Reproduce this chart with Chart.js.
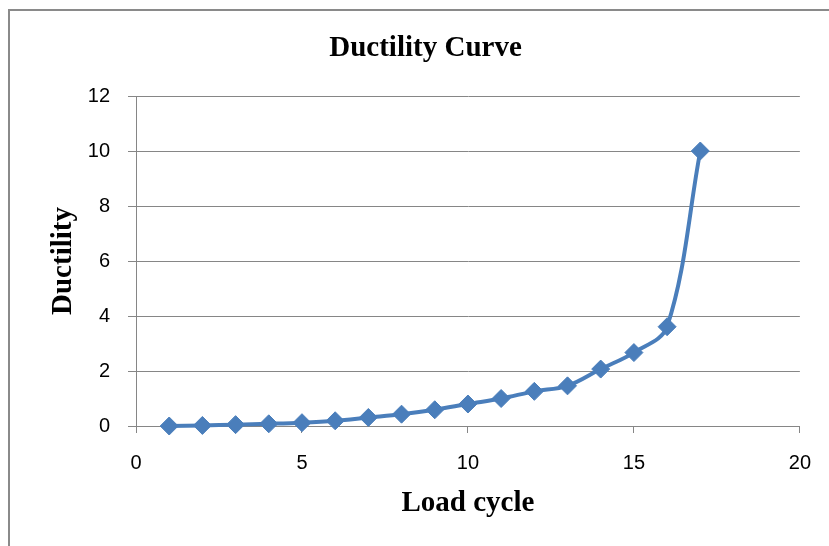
<!DOCTYPE html>
<html>
<head>
<meta charset="utf-8">
<script src="https://cdn.jsdelivr.net/npm/chart.js@4.4.1/dist/chart.umd.min.js"></script>
<style>
  html, body { margin: 0; padding: 0; background: #fff; }
  #wrap { position: relative; width: 829px; height: 546px; }
  #frame { position: absolute; left: 8px; top: 9px; right: -4px; bottom: -4px;
           border-left: 2px solid #8a8a8a; border-top: 2px solid #8a8a8a; pointer-events: none; }
  canvas { display: block; }
</style>
</head>
<body>
<div id="wrap">
  <canvas id="chart" width="829" height="546"></canvas>
  <div id="frame"></div>
</div>
<script>
// Ductility measured at each load cycle
const loadCycles = [1, 2, 3, 4, 5, 6, 7, 8, 9, 10, 11, 12, 13, 14, 15, 16, 17];
const ductility  = [0.00, 0.02, 0.05, 0.08, 0.12, 0.19, 0.31, 0.43, 0.59, 0.80, 1.00, 1.26, 1.46, 2.07, 2.67, 3.61, 10.0];

const chartTitle = 'Ductility Curve';
const xTitle = 'Load cycle';
const yTitle = 'Ductility';

const blue = '#4a7ebb';
const gridGray = '#868686';
const tickFont = { family: '"Liberation Sans", Arial, sans-serif', size: 20 };
const titleFont = { family: '"Liberation Serif", "Times New Roman", serif', size: 29, weight: 'bold' };

// Chart heading drawn above the plot
const headingPlugin = {
  id: 'heading',
  afterDraw(chart) {
    const { ctx } = chart;
    ctx.save();
    ctx.font = 'bold 29px "Liberation Serif", "Times New Roman", serif';
    ctx.fillStyle = '#000';
    ctx.textAlign = 'center';
    ctx.textBaseline = 'middle';
    ctx.fillText(chartTitle, chart.width / 2 + 11, 49);
    ctx.restore();
  }
};

new Chart(document.getElementById('chart'), {
  type: 'line',
  data: {
    datasets: [{
      data: loadCycles.map((c, i) => ({ x: c, y: ductility[i] })),
      borderColor: blue,
      backgroundColor: blue,
      borderWidth: 4,
      tension: 0.35,
      pointStyle: 'rectRot',
      pointRadius: 9,
      pointBorderWidth: 1,
      pointBorderColor: blue,
      pointBackgroundColor: blue,
      clip: false
    }]
  },
  options: {
    responsive: false,
    animation: false,
    layout: { padding: { top: 96, right: 29, bottom: 0, left: 0 } },
    plugins: {
      legend: { display: false },
      tooltip: { enabled: false }
    },
    scales: {
      x: {
        type: 'linear',
        min: 0, max: 20,
        ticks: { stepSize: 5, color: '#000', font: tickFont, padding: 18, maxRotation: 0 },
        grid: { drawOnChartArea: false, drawTicks: true, tickLength: 7, color: gridGray, lineWidth: 1 },
        border: { color: gridGray, width: 1 },
        title: { display: true, text: xTitle, color: '#000', font: titleFont, padding: { top: 0, bottom: 25 } },
        afterFit(scale) { scale.height = 120; }
      },
      y: {
        min: 0, max: 12,
        ticks: { stepSize: 2, color: '#000', font: tickFont, padding: 18 },
        grid: { color: gridGray, lineWidth: 1, tickLength: 8 },
        border: { color: gridGray, width: 1 },
        title: { display: true, text: yTitle, color: '#000', font: titleFont, padding: { top: 46, bottom: 0 } },
        afterFit(scale) { scale.width = 136; }
      }
    }
  },
  plugins: [headingPlugin]
});
</script>
</body>
</html>
